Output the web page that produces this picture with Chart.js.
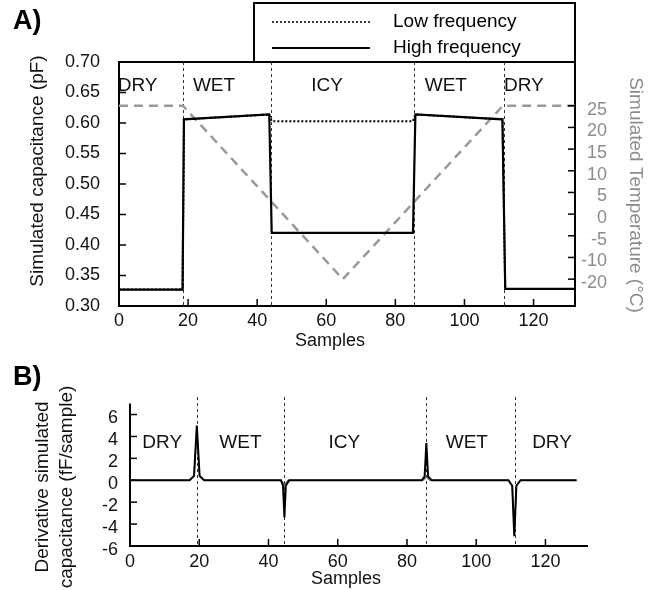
<!DOCTYPE html>
<html lang="en">
<head>
<meta charset="UTF-8">
<title>Simulated capacitance and temperature</title>
<script src="https://cdn.jsdelivr.net/npm/chart.js@4"></script>
<style>
  body { margin: 0; background: #fff; }
  #wrap { position: relative; width: 660px; height: 590px; }
  canvas { position: absolute; left: 0; }
</style>
</head>
<body>
<div id="wrap">
  <canvas id="chartA" width="660" height="360" style="top:0"></canvas>
  <canvas id="chartB" width="660" height="230" style="top:360px"></canvas>
</div>
<script>
// Panel A: simulated capacitance (pF) against sample number
const capSamples = [0, 18.4, 18.8, 43.5, 44.2, 85.1, 85.8, 111.0, 111.8, 132];
const highCap    = [0.327, 0.327, 0.606, 0.614, 0.420, 0.420, 0.614, 0.606, 0.328, 0.328];
const lowCap     = [0.327, 0.327, 0.606, 0.614, 0.603, 0.603, 0.614, 0.606, 0.328, 0.328];

// Panel A: simulated temperature, in right-axis units
const tempSamples = [0, 18.5, 64.8, 111.1, 132];
const tempValues  = [25, 25, -15, 25, 25];
const tempTickValues = [25, 20, 15, 10, 5, 0, -5, -10, -15];
const tempTickLabels = ['25', '20', '15', '10', '5', '0', '-5', '-10', '-20'];

// Panel B: derivative of capacitance (fF/sample)
const derivSamples = [0, 17.2, 18.5, 19.3, 20.1, 21.4, 43.6, 44.2, 44.6, 45.0, 46.0,
                      84.3, 85.1, 85.6, 86.1, 87.1, 109.3, 110.4, 111.0, 111.6, 112.8, 129];
const highDeriv    = [0, 0, 0.4, 5.0, 0.4, 0, 0, -0.5, -3.4, -0.5, 0,
                      0, 0.35, 3.4, 0.35, 0, 0, -0.5, -5.1, -0.5, 0, 0];
const lowDerivSamples = [0, 17.2, 18.5, 19.3, 20.1, 21.4, 43.7, 44.6, 45.6,
                         84.7, 85.6, 86.5, 109.3, 110.4, 111.0, 111.6, 112.8, 129];
const lowDeriv        = [0, 0, 0.4, 4.8, 0.4, 0, 0, -0.45, 0,
                         0, 0.3, 0, 0, -0.5, -5.0, -0.5, 0, 0];

// Region annotations
const regionNames = ['DRY', 'WET', 'ICY', 'WET', 'DRY'];
const regionLabelA = [5.4, 27.5, 60.2, 94.6, 117.2];
const regionLabelB = [9.3, 31.9, 61.9, 97.3, 121.9];
const boundariesA = [18.5, 44.0, 85.3, 111.4];
const boundariesB = [19.3, 44.5, 85.5, 111.2];

const FONT = '"Liberation Sans", Arial, sans-serif';
Chart.defaults.font.family = FONT;
Chart.defaults.color = '#111';

function pts(xs, ys) {
  return xs.map((x, i) => ({ x: x, y: ys[i] }));
}

// extra drawing: boundaries, inward ticks, labels, titles, legend box
const decor = {
  id: 'decor',
  beforeDatasetsDraw(chart, args, o) {
    const ctx = chart.ctx, ca = chart.chartArea, xs = chart.scales.x;
    ctx.save();
    ctx.setLineDash([3, 3]);
    ctx.lineWidth = 1;
    ctx.strokeStyle = '#333';
    o.boundaries.forEach(b => {
      const px = Math.round(xs.getPixelForValue(b)) + 0.5;
      ctx.beginPath();
      ctx.moveTo(px, ca.top);
      ctx.lineTo(px, ca.bottom);
      ctx.stroke();
    });
    ctx.restore();
  },
  afterDraw(chart, args, o) {
    const ctx = chart.ctx, ca = chart.chartArea, xs = chart.scales.x;
    ctx.save();
    ctx.strokeStyle = '#000';
    ctx.lineWidth = 2;
    if (o.topBorder) {
      ctx.beginPath();
      ctx.moveTo(ca.left - 1, ca.top);
      ctx.lineTo(ca.right + 1, ca.top);
      ctx.stroke();
    }
    if (o.spineTo !== undefined) {
      ctx.beginPath();
      ctx.moveTo(ca.left, ca.bottom + 1);
      ctx.lineTo(ca.left, chart.scales.y.getPixelForValue(o.spineTo));
      ctx.stroke();
    }
    // inward tick marks
    ctx.lineWidth = 1.5;
    const len = 7;
    xs.ticks.forEach(t => {
      const px = xs.getPixelForValue(t.value);
      ctx.beginPath(); ctx.moveTo(px, ca.bottom); ctx.lineTo(px, ca.bottom - len); ctx.stroke();
    });
    ['y', 'y1'].forEach(id => {
      const s = chart.scales[id];
      if (!s) return;
      const x0 = id === 'y' ? ca.left : ca.right;
      const dir = id === 'y' ? 1 : -1;
      s.ticks.forEach(t => {
        const py = s.getPixelForValue(t.value);
        ctx.beginPath(); ctx.moveTo(x0, py); ctx.lineTo(x0 + dir * len, py); ctx.stroke();
      });
    });
    // region names
    ctx.font = '19px ' + FONT;
    ctx.fillStyle = '#111';
    ctx.textAlign = 'center';
    ctx.textBaseline = 'middle';
    regionNames.forEach((r, i) => {
      ctx.fillText(r, xs.getPixelForValue(o.regionX[i]), ca.top + o.regionDy);
    });
    // axis titles
    o.titles.forEach(t => {
      ctx.save();
      ctx.translate(t.x, t.y);
      ctx.rotate(t.rot || 0);
      ctx.font = t.size + 'px ' + FONT;
      ctx.fillStyle = t.color || '#111';
      ctx.textAlign = 'center';
      ctx.textBaseline = 'middle';
      ctx.fillText(t.text, 0, 0);
      ctx.restore();
    });
    // panel letter
    ctx.font = 'bold 27px ' + FONT;
    ctx.textAlign = 'left';
    ctx.fillStyle = '#000';
    ctx.fillText(o.letter, 13, o.letterY);
    // legend box
    if (o.legend) {
      const lx = ca.right - 321, ly = 3;
      ctx.lineWidth = 2;
      ctx.strokeRect(lx, ly, ca.right - lx, ca.top - ly);
      ctx.font = '19px ' + FONT;
      ctx.textAlign = 'left';
      o.legend.forEach((item, i) => {
        const yy = ly + 19 + i * 26;
        ctx.beginPath();
        ctx.lineWidth = item.width;
        ctx.setLineDash(item.dash);
        ctx.moveTo(lx + 18, yy);
        ctx.lineTo(lx + 116, yy);
        ctx.stroke();
        ctx.setLineDash([]);
        ctx.fillText(item.text, lx + 139, yy);
      });
    }
    ctx.restore();
  }
};

const tickFont = { size: 18 };

new Chart(document.getElementById('chartA'), {
  type: 'line',
  data: {
    datasets: [
      { label: 'High frequency', data: pts(capSamples, highCap), yAxisID: 'y',
        borderColor: '#000', borderWidth: 2.2, pointRadius: 0, order: 0 },
      { label: 'Low frequency', data: pts(capSamples, lowCap), yAxisID: 'y',
        borderColor: '#000', borderWidth: 2, borderDash: [2, 2], pointRadius: 0, order: 1 },
      { label: 'Temperature', data: pts(tempSamples, tempValues), yAxisID: 'y1',
        borderColor: '#999', borderWidth: 2.5, borderDash: [9, 6], pointRadius: 0, order: 2 }
    ]
  },
  options: {
    responsive: false,
    animation: false,
    layout: { padding: { top: 62, right: 53, left: 0, bottom: 0 } },
    plugins: {
      legend: { display: false },
      tooltip: { enabled: false },
      decor: {
        topBorder: true,
        boundaries: boundariesA,
        regionX: regionLabelA,
        regionDy: 24,
        letter: 'A)',
        letterY: 22,
        legend: [
          { text: 'Low frequency', dash: [2, 2], width: 1.5 },
          { text: 'High frequency', dash: [], width: 2 }
        ],
        titles: [
          { text: 'Simulated capacitance (pF)', x: 38, y: 171, rot: -Math.PI / 2, size: 19 },
          { text: 'Simulated Temperature (°C)', x: 635, y: 195, rot: Math.PI / 2, size: 19, color: '#8c8c8c' },
          { text: 'Samples', x: 330, y: 341, size: 18 }
        ]
      }
    },
    scales: {
      x: {
        type: 'linear', min: 0, max: 132,
        grid: { display: false, drawTicks: false },
        border: { color: '#000', width: 2 },
        ticks: { stepSize: 20, includeBounds: false, autoSkip: false, maxRotation: 0, padding: 4, font: tickFont },
        afterFit: s => { s.height = 54; }
      },
      y: {
        min: 0.3, max: 0.7,
        grid: { display: false, drawTicks: false },
        border: { color: '#000', width: 2 },
        ticks: { stepSize: 0.05, autoSkip: false, padding: 19, font: tickFont,
                 callback: v => v.toFixed(2) },
        afterFit: s => { s.width = 119; }
      },
      y1: {
        position: 'right', min: -21.2, max: 35.1,
        grid: { display: false, drawTicks: false },
        border: { color: '#000', width: 2 },
        afterBuildTicks: s => { s.ticks = tempTickValues.map(v => ({ value: v })); },
        ticks: { autoSkip: false, crossAlign: 'far', labelOffset: 4, color: '#8c8c8c', font: tickFont,
                 callback: v => tempTickLabels[tempTickValues.indexOf(v)] },
        afterFit: s => { s.width = 32; }
      }
    }
  },
  plugins: [decor]
});

new Chart(document.getElementById('chartB'), {
  type: 'line',
  data: {
    datasets: [
      { label: 'High frequency', data: pts(derivSamples, highDeriv),
        borderColor: '#000', borderWidth: 2, pointRadius: 0, order: 0 },
      { label: 'Low frequency', data: pts(lowDerivSamples, lowDeriv),
        borderColor: '#666', borderWidth: 1.2, pointRadius: 0, order: 1 }
    ]
  },
  options: {
    responsive: false,
    animation: false,
    layout: { padding: { top: 37, right: 73, left: 0, bottom: 0 } },
    plugins: {
      legend: { display: false },
      tooltip: { enabled: false },
      decor: {
        spineTo: 7,
        boundaries: boundariesB,
        regionX: regionLabelB,
        regionDy: 46,
        letter: 'B)',
        letterY: 18,
        titles: [
          { text: 'Derivative simulated', x: 43, y: 127, rot: -Math.PI / 2, size: 19 },
          { text: 'capacitance (fF/sample)', x: 67, y: 127, rot: -Math.PI / 2, size: 19 },
          { text: 'Samples', x: 346, y: 219, size: 18 }
        ]
      }
    },
    scales: {
      x: {
        type: 'linear', min: 0, max: 132,
        grid: { display: false, drawTicks: false },
        border: { color: '#000', width: 2 },
        ticks: { stepSize: 20, includeBounds: false, autoSkip: false, maxRotation: 0, padding: 5, font: tickFont },
        afterFit: s => { s.height = 44; }
      },
      y: {
        min: -6, max: 7.6,
        grid: { display: false, drawTicks: false },
        border: { display: false },
        ticks: { stepSize: 2, includeBounds: false, autoSkip: false, padding: 12, labelOffset: 4, font: tickFont },
        afterFit: s => { s.width = 130; }
      }
    }
  },
  plugins: [decor]
});
</script>
</body>
</html>
